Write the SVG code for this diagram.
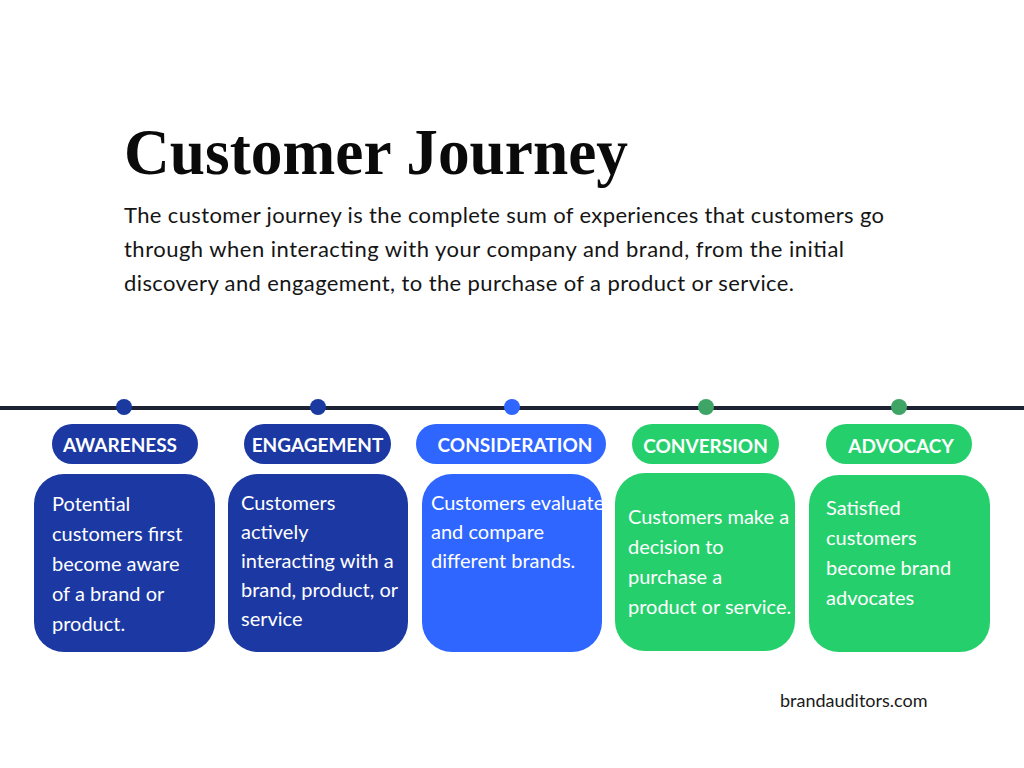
<svg xmlns="http://www.w3.org/2000/svg" width="1024" height="768" viewBox="0 0 1024 768">
<style>
.title{font-family:"Liberation Serif","DejaVu Serif",serif;font-weight:bold;font-size:65px;fill:#0a0a0a}
.para{font-family:Lato,"Noto Sans",sans-serif;font-size:22px;fill:#151515}
.pill{font-family:Lato,"Noto Sans",sans-serif;font-weight:bold;font-size:19px;fill:#fff;text-anchor:middle}
.body{font-family:Lato,"Noto Sans",sans-serif;font-size:20px;fill:#fff}
.foot{font-family:Lato,"Noto Sans",sans-serif;font-size:18px;fill:#1a1a1a}
.dk{fill:#1b38a3}.bl{fill:#2e66ff}.gr{fill:#25d06c}
</style>
<defs>
<clipPath id="c3"><rect x="422" y="474" width="180" height="178" rx="30"/></clipPath>
<clipPath id="c4"><rect x="615" y="473" width="180" height="178" rx="30"/></clipPath>
</defs>
<rect width="1024" height="768" fill="#fff"/>
<text class="title" x="124" y="174" textLength="504" lengthAdjust="spacingAndGlyphs">Customer Journey</text>
<text class="para" x="124" y="223" textLength="760" lengthAdjust="spacing">The customer journey is the complete sum of experiences that customers go</text>
<text class="para" x="124" y="257" textLength="720" lengthAdjust="spacing">through when interacting with your company and brand, from the initial</text>
<text class="para" x="124" y="291" textLength="670" lengthAdjust="spacing">discovery and engagement, to the purchase of a product or service.</text>
<g id="connectors">
<line x1="0" y1="408" x2="1024" y2="408" stroke="#1e2235" stroke-width="4"/>
</g>
<g id="awareness">
<circle cx="124" cy="407" r="8" fill="#1a3aa0"/>
<rect class="dk" x="52" y="424" width="146" height="40" rx="20"/>
<text class="pill" x="120" y="452">AWARENESS</text>
<rect class="dk" x="34" y="474" width="181" height="178" rx="30"/>
<text class="body" x="52"><tspan x="52" y="511">Potential</tspan><tspan x="52" y="541">customers first</tspan><tspan x="52" y="571">become aware</tspan><tspan x="52" y="601">of a brand or</tspan><tspan x="52" y="631">product.</tspan></text>
</g>
<g id="engagement">
<circle cx="318" cy="407" r="8" fill="#1a3aa0"/>
<rect class="dk" x="244" y="424" width="147" height="40" rx="20"/>
<text class="pill" x="317.5" y="452">ENGAGEMENT</text>
<rect class="dk" x="228" y="474" width="180" height="178" rx="30"/>
<text class="body" x="241"><tspan x="241" y="510">Customers</tspan><tspan x="241" y="539">actively</tspan><tspan x="241" y="568">interacting with a</tspan><tspan x="241" y="597">brand, product, or</tspan><tspan x="241" y="626">service</tspan></text>
</g>
<g id="consideration">
<circle cx="512" cy="407" r="8" fill="#2f66ff"/>
<rect class="bl" x="416" y="424" width="190" height="40" rx="20"/>
<text class="pill" x="515" y="452">CONSIDERATION</text>
<rect class="bl" x="422" y="474" width="180" height="178" rx="30"/>
<text class="body" clip-path="url(#c3)"><tspan x="431" y="510">Customers evaluate</tspan><tspan x="431" y="539">and compare</tspan><tspan x="431" y="568">different brands.</tspan></text>
</g>
<g id="conversion">
<circle cx="706" cy="407" r="8" fill="#3ea566"/>
<rect class="gr" x="632" y="424" width="147" height="40" rx="20"/>
<text class="pill" x="705.5" y="453">CONVERSION</text>
<rect class="gr" x="615" y="473" width="180" height="178" rx="30"/>
<text class="body" clip-path="url(#c4)"><tspan x="628" y="524">Customers make a</tspan><tspan x="628" y="554">decision to</tspan><tspan x="628" y="584">purchase a</tspan><tspan x="628" y="614">product or service.</tspan></text>
</g>
<g id="advocacy">
<circle cx="899" cy="407" r="8" fill="#3ea566"/>
<rect class="gr" x="826" y="424" width="146" height="40" rx="20"/>
<text class="pill" x="901" y="453">ADVOCACY</text>
<rect class="gr" x="809" y="475" width="181" height="177" rx="30"/>
<text class="body"><tspan x="826" y="515">Satisfied</tspan><tspan x="826" y="545">customers</tspan><tspan x="826" y="575">become brand</tspan><tspan x="826" y="605">advocates</tspan></text>
</g>
<text class="foot" x="780" y="707">brandauditors.com</text>
</svg>
